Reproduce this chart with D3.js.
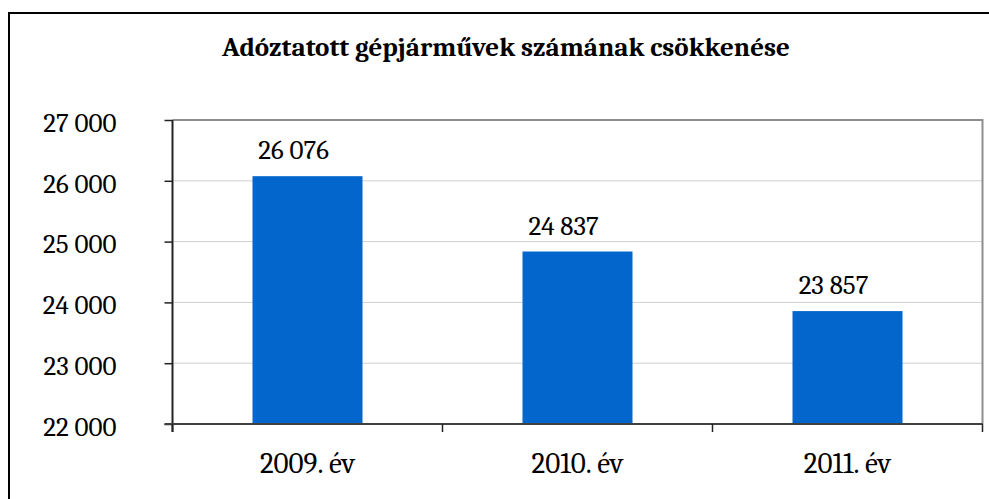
<!DOCTYPE html>
<html><head><meta charset="utf-8">
<script src="https://cdn.jsdelivr.net/npm/d3@7"></script>
<style>
html,body{margin:0;padding:0;background:#fff;}
svg{display:block;}
text{font-family:Cambria,"Liberation Serif","DejaVu Serif",serif;fill:#000;}
</style></head>
<body><svg id="chart" width="989" height="499"></svg>
<script>
const title = "Adóztatott gépjárművek számának csökkenése";
const categories = ["2009. év", "2010. év", "2011. év"];
const values = [26076, 24837, 23857];
const yTicks = [22000, 23000, 24000, 25000, 26000, 27000];
const yDomain = [22000, 27000];

const svg = d3.select("#chart");
const W = 989, H = 499;
const m = {left: 172.5, right: 982.5, top: 120, bottom: 424};

const loc = d3.formatLocale({decimal: ",", thousands: " ", grouping: [3], currency: ["", ""]});
const fmt = loc.format(",d");

// outer border
svg.append("rect").attr("x", 9).attr("y", 13).attr("width", W + 10).attr("height", H + 10)
  .attr("fill", "none").attr("stroke", "#000").attr("stroke-width", 2);

const x = d3.scaleBand().domain(categories).range([m.left, m.right])
  .paddingInner(0.5926).paddingOuter(0.2963);
const y = d3.scaleLinear().domain(yDomain).range([m.bottom, m.top]);

// gridlines
svg.append("g").selectAll("line").data(yTicks.filter(t => t > yDomain[0] && t < yDomain[1]))
  .join("line")
  .attr("x1", m.left).attr("x2", m.right)
  .attr("y1", d => y(d)).attr("y2", d => y(d))
  .attr("stroke", "#d0d0d0").attr("stroke-width", 1);

// plot border top & right
svg.append("path")
  .attr("d", `M${m.left},${m.top}H${m.right}V${m.bottom}`)
  .attr("fill", "none").attr("stroke", "#8e8e8e").attr("stroke-width", 2);

// bars
svg.append("g").selectAll("rect").data(values).join("rect")
  .attr("x", (d, i) => x(categories[i]))
  .attr("width", x.bandwidth())
  .attr("y", d => y(d))
  .attr("height", d => y(yDomain[0]) - y(d))
  .attr("fill", "#0366cd");

// value labels
svg.append("g").selectAll("text").data(values).join("text")
  .attr("x", (d, i) => x(categories[i]) + x.bandwidth() / 2 - 14)
  .attr("y", d => y(d) - 17)
  .attr("text-anchor", "middle")
  .attr("font-size", 27)
  .text(d => fmt(d));

// y axis
const yAxis = d3.axisLeft(y).tickValues(yTicks).tickSize(8).tickFormat(fmt).tickPadding(48);
const gy = svg.append("g").attr("transform", `translate(${m.left},0)`).call(yAxis);
gy.select(".domain").attr("stroke", "#222").attr("stroke-width", 2).attr("d", `M0,${m.top}V${m.bottom + 8}`);
gy.selectAll(".tick line").attr("stroke", "#222").attr("stroke-width", 1.5);
gy.selectAll(".tick text").attr("font-size", 27).attr("font-family", 'Cambria,"Liberation Serif","DejaVu Serif",serif')
  .attr("fill", "#000").attr("dy", "0.42em");

// x axis
const xTickPos = [m.left].concat(categories.map(c => x(c) + x.bandwidth() / 2 + x.step() / 2));
const gx = svg.append("g");
gx.append("line").attr("x1", m.left - 8).attr("x2", m.right).attr("y1", m.bottom).attr("y2", m.bottom)
  .attr("stroke", "#404040").attr("stroke-width", 2);
gx.selectAll("line.tk").data(xTickPos).join("line").attr("class", "tk")
  .attr("x1", d => d).attr("x2", d => d).attr("y1", m.bottom).attr("y2", m.bottom + 8)
  .attr("stroke", "#222").attr("stroke-width", 1.5);
gx.selectAll("text").data(categories).join("text")
  .attr("x", d => x(d) + x.bandwidth() / 2)
  .attr("y", 473)
  .attr("text-anchor", "middle")
  .attr("font-size", 29)
  .text(d => d);

// title
svg.append("text").attr("x", 506).attr("y", 56).attr("text-anchor", "middle")
  .attr("font-size", 27).attr("font-weight", "bold").text(title);
</script></body></html>
